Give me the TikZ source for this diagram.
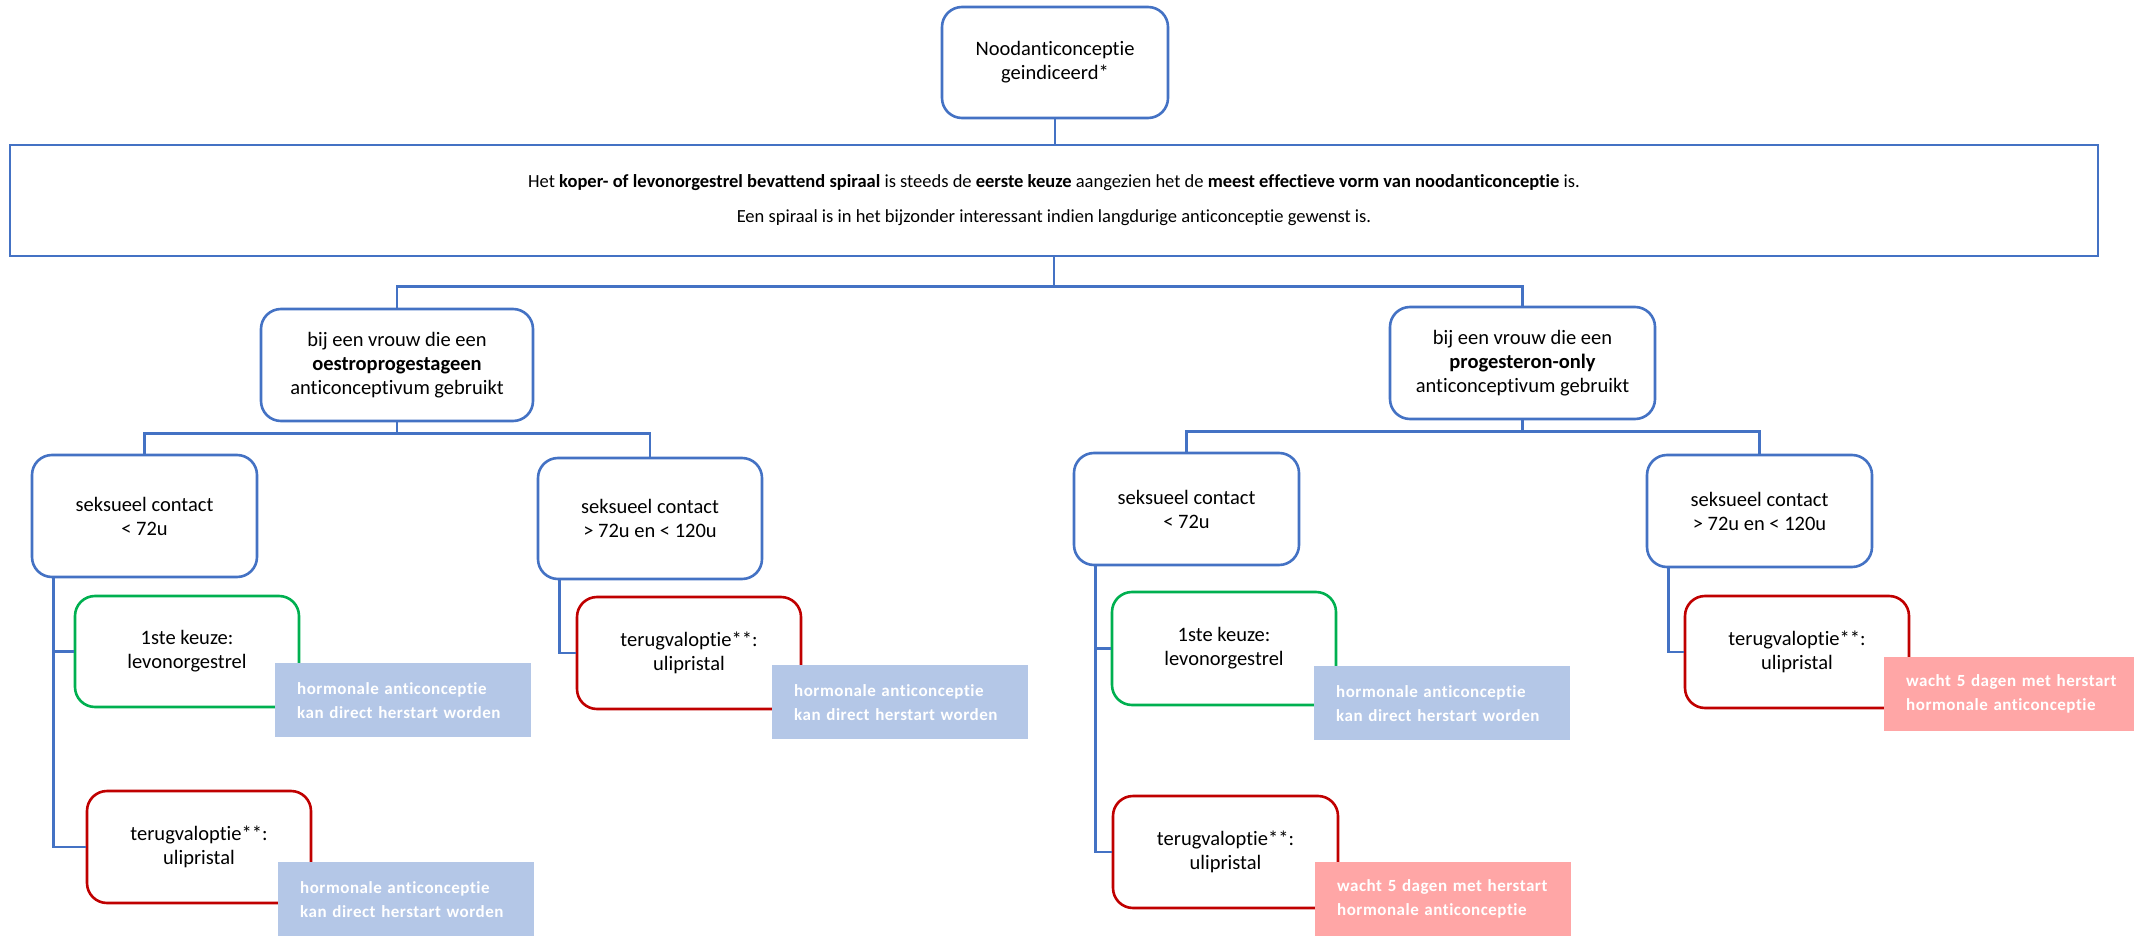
\documentclass[tikz,border=0pt]{standalone}
\usepackage{fontspec}
\setmainfont{Carlito}[Ligatures={NoCommon}]
\usetikzlibrary{calc}
\definecolor{lblue}{HTML}{4472C4}
\definecolor{lgreen}{HTML}{00B050}
\definecolor{lred}{HTML}{C00000}
\definecolor{infoblue}{HTML}{B4C7E7}
\definecolor{infopink}{HTML}{FFA6A6}
\begin{document}
\begin{tikzpicture}[x=1pt,y=-1pt,
  box/.style={draw=lblue, line width=2.6pt, rounded corners=20pt, fill=white, align=center,
    inner sep=0pt, font=\fontsize{20.5}{24}\selectfont, text=black},
  gbox/.style={box, draw=lgreen},
  rbox/.style={box, draw=lred},
  bigbox/.style={draw=lblue, line width=2.6pt, fill=white, align=center, inner sep=0pt,
    font=\fontsize{18.5}{24}\selectfont},
  info/.style={anchor=north west, fill=infoblue, text=white, align=left, inner xsep=22pt,
    inner ysep=0pt, text width=212pt, minimum height=74pt,
    font=\bfseries\fontsize{17}{24}\selectfont\addfontfeature{LetterSpace=3}},
  pinfo/.style={info, fill=infopink},
  conn/.style={draw=lblue, line width=2.6pt},
]
\useasboundingbox (0,0) rectangle (2134,936);
\clip (0,0) rectangle (2134,936);
\fill[white] (0,0) rectangle (2134,936);

% main boxes
\node[box, minimum width=226pt, minimum height=111pt] (top) at (1055,62.5) {Noodanticonceptie\\geindiceerd*};
\node[bigbox, minimum width=2088pt, minimum height=111pt] (big) at (1054,200.5)
 {Het \textbf{koper- of levonorgestrel bevattend spiraal} is steeds de \textbf{eerste keuze} aangezien het de \textbf{meest effectieve vorm van noodanticonceptie} is.\\[11pt]
  Een spiraal is in het bijzonder interessant indien langdurige anticonceptie gewenst is.};

\node[box, minimum width=272pt, minimum height=112pt] (L2a) at (397,365) {bij een vrouw die een\\\textbf{oestroprogestageen}\\anticonceptivum gebruikt};
\node[box, minimum width=265pt, minimum height=112pt] (L2b) at (1522.5,363) {bij een vrouw die een\\\textbf{progesteron-only}\\anticonceptivum gebruikt};

\node[box, minimum width=225pt, minimum height=122pt] (L3a) at (144.5,516) {seksueel contact\\< 72u};
\node[box, minimum width=224pt, minimum height=121pt] (L3b) at (650,518.5) {seksueel contact\\> 72u en < 120u};
\node[box, minimum width=225pt, minimum height=112pt] (L3c) at (1186.5,509) {seksueel contact\\< 72u};
\node[box, minimum width=225pt, minimum height=112pt] (L3d) at (1759.5,511) {seksueel contact\\> 72u en < 120u};

\node[gbox, minimum width=224pt, minimum height=111pt] (g1) at (187,651.5) {1ste keuze:\\levonorgestrel};
\node[rbox, minimum width=224pt, minimum height=112pt] (r1) at (199,847) {terugvaloptie**:\\ulipristal};
\node[rbox, minimum width=224pt, minimum height=112pt] (r2) at (689,653) {terugvaloptie**:\\ulipristal};
\node[gbox, minimum width=224pt, minimum height=113pt] (g2) at (1224,648.5) {1ste keuze:\\levonorgestrel};
\node[rbox, minimum width=225pt, minimum height=112pt] (r3) at (1225.5,852) {terugvaloptie**:\\ulipristal};
\node[rbox, minimum width=224pt, minimum height=112pt] (r4) at (1797,652) {terugvaloptie**:\\ulipristal};

% connectors
\draw[conn] (top.south) -- (top.south |- big.north);
\draw[conn] (big.south) -- ++(0,29) coordinate (f1) -| (L2a.north);
\draw[conn] (f1) -| (L2b.north);
\draw[conn] (L2a.south) -- ++(0,11) coordinate (f2a) -| (L3a.north);
\draw[conn] (f2a) -| (L3b.north);
\draw[conn] (L2b.south) -- ++(0,11) coordinate (f2b) -| (L3c.north);
\draw[conn] (f2b) -| (L3d.north);
\draw[conn] ($(L3a.south west)+(23,0)$) coordinate (va) |- (g1.west);
\draw[conn] (va) |- (r1.west);
\draw[conn] ($(L3b.south west)+(23,0)$) |- (r2.west);
\draw[conn] ($(L3c.south west)+(23,0)$) coordinate (vc) |- (g2.west);
\draw[conn] (vc) |- (r3.west);
\draw[conn] ($(L3d.south west)+(23,0)$) |- (r4.west);

% info boxes
\node[info] (i1) at (275,663) {hormonale anticonceptie\\kan direct herstart worden};
\node[info] (i2) at (278,862) {hormonale anticonceptie\\kan direct herstart worden};
\node[info] (i3) at (772,665) {hormonale anticonceptie\\kan direct herstart worden};
\node[info] (i4) at (1314,666) {hormonale anticonceptie\\kan direct herstart worden};
\node[pinfo] (i5) at (1315,862) {wacht 5 dagen met herstart\\hormonale anticonceptie};
\node[pinfo] (i6) at (1884,657) {wacht 5 dagen met herstart\\hormonale anticonceptie};
\end{tikzpicture}
\end{document}
